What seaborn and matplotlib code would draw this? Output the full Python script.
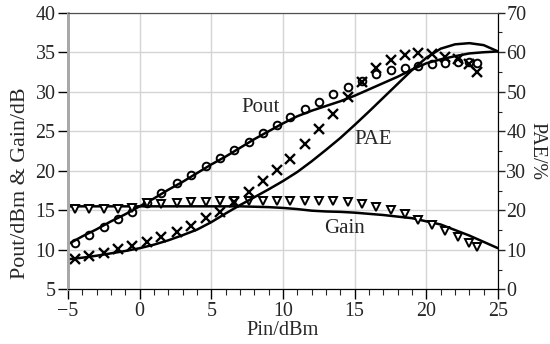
import numpy as np
import pandas as pd
import matplotlib
matplotlib.use("Agg")
import matplotlib.pyplot as plt
from matplotlib.ticker import MultipleLocator
import seaborn as sns

# simulated curves (lines)
pin_sim = list(range(-5, 26))
pout_sim = [10.7, 11.7, 12.6, 13.6, 14.5, 15.5, 16.5, 17.6, 18.6, 19.7,
            20.8, 21.8, 22.9, 24.0, 25.0, 26.0, 26.9, 27.6, 28.2, 28.8,
            29.5, 30.3, 31.1, 31.9, 32.8, 33.6, 34.1, 34.5, 34.85, 35.0, 35.1]
gain_sim = [15.5, 15.5, 15.5, 15.5, 15.5, 15.5, 15.5, 15.5, 15.5, 15.5,
            15.5, 15.5, 15.5, 15.45, 15.4, 15.3, 15.15, 14.95, 14.85, 14.8,
            14.7, 14.55, 14.4, 14.2, 14.0, 13.6, 13.2, 12.5, 11.8, 11.0, 10.2]
pae_sim = [7.6, 8.0, 8.5, 9.1, 9.7, 10.4, 11.3, 12.4, 13.7, 15.1,
           17.0, 19.2, 21.3, 23.3, 25.3, 27.4, 29.7, 32.4, 35.3, 38.3,
           41.6, 45.0, 48.5, 52.0, 55.5, 58.6, 60.9, 62.0, 62.3, 61.8, 60.2]

# measured points (markers)
pin_meas = [-4.5, -3.5, -2.5, -1.5, -0.5, 0.5, 1.5, 2.6, 3.6, 4.6,
            5.6, 6.6, 7.6, 8.6, 9.6, 10.5, 11.5, 12.5, 13.5, 14.5,
            15.5, 16.5, 17.5, 18.5, 19.4, 20.4, 21.3, 22.2, 23.0, 23.5]
pout_meas = [10.8, 11.9, 12.85, 13.9, 14.8, 15.96, 17.15, 18.4, 19.5, 20.6,
             21.6, 22.6, 23.7, 24.75, 25.8, 26.85, 27.8, 28.75, 29.7, 30.6,
             31.4, 32.2, 32.7, 33.0, 33.3, 33.5, 33.6, 33.8, 33.8, 33.7]
gain_meas = [15.2, 15.2, 15.2, 15.2, 15.3, 15.9, 15.8, 15.9, 16.0, 16.05,
             16.2, 16.2, 16.2, 16.2, 16.2, 16.2, 16.2, 16.2, 16.2, 16.0,
             15.8, 15.45, 15.0, 14.5, 13.8, 13.1, 12.4, 11.65, 10.8, 10.3]
pae_meas = [7.6, 8.4, 9.3, 10.1, 11.0, 12.05, 13.2, 14.6, 16.0, 18.0,
            19.6, 22.2, 24.7, 27.3, 30.1, 33.0, 36.8, 40.5, 44.4, 48.6,
            52.5, 55.9, 58.0, 59.3, 59.7, 59.5, 58.9, 58.2, 56.9, 55.0]

sim = pd.DataFrame(dict(pin=pin_sim, pout=pout_sim, gain=gain_sim, pae=pae_sim))
meas = pd.DataFrame(dict(pin=pin_meas, pout=pout_meas, gain=gain_meas, pae=pae_meas))

sns.set_style("ticks")
plt.rcParams["font.family"] = ["Liberation Serif", "DejaVu Serif"]
fs = 14.4

fig = plt.figure(figsize=(5.5, 3.44), dpi=100)
fig.patch.set_facecolor("white")
ax = fig.add_axes([0.1236, 0.159, 0.7819, 0.804])
ax2 = ax.twinx()

lw = 1.8
sns.lineplot(data=sim, x="pin", y="pout", ax=ax, color="black", lw=lw)
sns.lineplot(data=sim, x="pin", y="gain", ax=ax, color="black", lw=lw)
sns.lineplot(data=sim, x="pin", y="pae", ax=ax2, color="black", lw=lw)

ax.plot(meas["pin"], meas["pout"], ls="none", marker="o", ms=5.5,
        mfc="none", mec="black", mew=1.4)
ax.plot(meas["pin"], meas["gain"], ls="none", marker="v", ms=6,
        mfc="white", mec="black", mew=1.4)
ax2.plot(meas["pin"], meas["pae"], ls="none", marker="x", ms=6.5,
         mec="black", mew=1.7)

ax.set_xlim(-5, 25)
ax.set_ylim(5, 40)
ax2.set_ylim(0, 70)
ax.xaxis.set_major_locator(MultipleLocator(5))
ax.xaxis.set_minor_locator(MultipleLocator(1))
ax.yaxis.set_major_locator(MultipleLocator(5))
ax2.yaxis.set_major_locator(MultipleLocator(10))
ax2.yaxis.set_minor_locator(MultipleLocator(5))

ax.grid(True, which="major", color="#d4d4d4", lw=1.0)
ax.set_axisbelow(True)

ax.tick_params(axis="both", which="major", labelsize=fs, length=7,
               width=1, color="black", pad=2)
ax.tick_params(axis="x", which="minor", length=4, width=0.8)
ax2.tick_params(axis="y", which="major", labelsize=fs, length=5, width=1, pad=1)
ax2.tick_params(axis="y", which="minor", length=3, width=0.8)

for a in (ax, ax2):
    a.spines["top"].set_color("#505050")
    a.spines["right"].set_color("black")
    a.spines["bottom"].set_color("black")
    a.spines["left"].set_color("#a8a8a8")
    a.spines["left"].set_linewidth(2)

ax.set_xlabel("Pin/dBm", fontsize=14.7)
ax.xaxis.set_label_coords(0.5, -0.115)
ax.set_ylabel("Pout/dBm & Gain/dB", fontsize=15.8)
ax.yaxis.set_label_coords(-0.088, 0.385)
ax2.set_ylabel("PAE/%", fontsize=fs, rotation=270, labelpad=14)

ax.text(8.4, 28.0, "Pout", fontsize=15, ha="center", va="center")
ax.text(16.3, 23.9, "PAE", fontsize=15, ha="center", va="center")
ax.text(14.3, 12.7, "Gain", fontsize=15, ha="center", va="center")

fig.savefig("out.png", dpi=100, facecolor="white")
plt.close(fig)
